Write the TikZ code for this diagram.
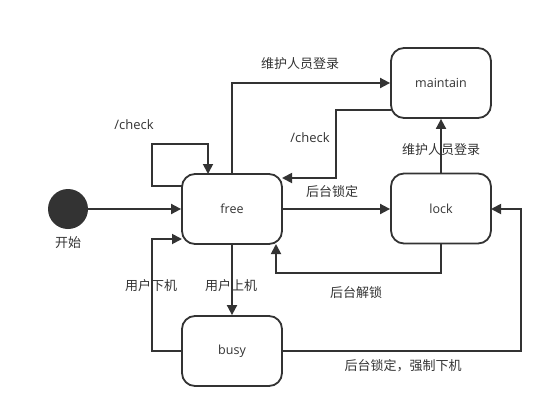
\documentclass[tikz,border=0pt]{standalone}
\usepackage{fontspec}
\setmainfont{Open Sans}
\newfontfamily\cjk{Noto Sans CJK SC}
\usetikzlibrary{arrows.meta}
\definecolor{ink}{HTML}{333333}
\begin{document}
\begin{tikzpicture}[x=1pt,y=-1pt,
  state/.style={draw=ink,line width=1.8pt,rounded corners=13pt,minimum width=100pt,minimum height=70pt,inner sep=0pt,font=\fontsize{12.5}{14}\selectfont,text=ink},
  lbl/.style={font=\cjk\fontsize{13}{15}\selectfont,text=ink,inner sep=0pt},
  lat/.style={font=\fontsize{13}{15}\selectfont,text=ink,inner sep=0pt},
  edge/.style={draw=ink,line width=1.8pt,-{Triangle[length=10pt,width=10pt]}}]
\useasboundingbox (0,0) rectangle (553,418);
\fill[white] (0,0) rectangle (553,418);
% labels
\node[lbl] (l1) at (300,64) {维护人员登录};
\node[lat] (l2) at (134,125) {/check};
\node[lat] (l3) at (310,138) {/check};
\node[lbl] (l4) at (441,150) {维护人员登录};
\node[lbl] (l5) at (332,192) {后台锁定};
\node[lbl] (l6) at (68,243) {开始};
\node[lbl] (l7) at (151,286) {用户下机};
\node[lbl] (l8) at (231,286) {用户上机};
\node[lbl] (l9) at (356,293) {后台解锁};
\node[lbl] (l10) at (403,366) {后台锁定，强制下机};
% states
\node[state] (free) at (232,209) {free};
\node[state] (lock) at (441,208.5) {lock};
\node[state] (maintain) at (441,83) {maintain};
\node[state] (busy) at (232,351) {busy};
\node[circle,fill=ink,minimum size=40pt,inner sep=0pt] (start) at (68,209) {};
% waypoints
\coordinate (a1) at (232,83);
\coordinate (b1) at (391,110);
\coordinate (b2) at (336,110);
\coordinate (b3) at (336,178);
\coordinate (b4) at (282,178);
\coordinate (c1) at (182,186);
\coordinate (c2) at (152,186);
\coordinate (c3) at (152,144);
\coordinate (c4) at (208,144);
\coordinate (c5) at (208,174);
\coordinate (d1) at (441,243.5);
\coordinate (d2) at (441,273);
\coordinate (d3) at (276,273);
\coordinate (d4) at (276,244);
\coordinate (e1) at (182,351);
\coordinate (e2) at (152,351);
\coordinate (e3) at (152,239);
\coordinate (e4) at (182,239);
\coordinate (f1) at (282,351);
\coordinate (f2) at (521,351);
\coordinate (f3) at (521,209);
\coordinate (f4) at (491,209);
% edges
\draw[edge] (start.east) -- (free.west);
\draw[edge] (free.north) -- (a1) -- (maintain.west);
\draw[edge] (b1) -- (b2) -- (b3) -- (b4);
\draw[edge] (c1) -- (c2) -- (c3) -- (c4) -- (c5);
\draw[edge] (free.east) -- (free.east -| lock.west);
\draw[edge] (lock.north) -- (maintain.south);
\draw[edge] (d1) -- (d2) -- (d3) -- (d4);
\draw[edge] (free.south) -- (busy.north);
\draw[edge] (e1) -- (e2) -- (e3) -- (e4);
\draw[edge] (f1) -- (f2) -- (f3) -- (f4);
\end{tikzpicture}
\end{document}
